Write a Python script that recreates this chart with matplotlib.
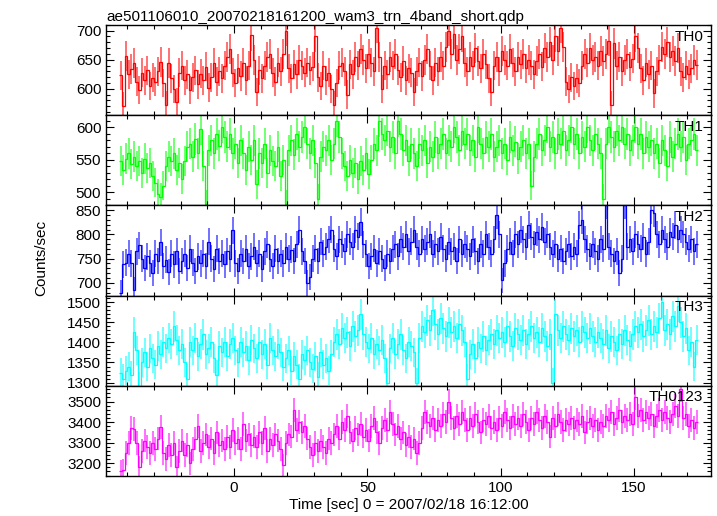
import numpy as np
from matplotlib import pyplot as plt
from matplotlib.ticker import MultipleLocator

plt.rcParams['font.family'] = ['Liberation Sans', 'DejaVu Sans']

title = 'ae501106010_20070218161200_wam3_trn_4band_short.qdp'

# 1 s bins, first bin centre in seconds from 2007/02/18 16:12:00
t_first = -42.5
bin_width = 1.0

th0 = [
    623, 570, 656, 625, 634, 644, 612, 598, 628, 615,
    632, 605, 619, 612, 630, 646, 610, 572, 644, 618,
    600, 577, 628, 640, 615, 625, 598, 620, 632, 608,
    626, 615, 638, 602, 620, 645, 612, 630, 618, 640,
    655, 668, 628, 610, 635, 622, 645, 615, 640, 692,
    650, 595, 632, 618, 640, 655, 660, 628, 612, 645,
    630, 660, 700, 635, 618, 642, 625, 650, 640, 628,
    645, 632, 638, 690, 620, 605, 640, 615, 628, 600,
    573, 610, 640, 645, 630, 590, 642, 625, 655, 640,
    668, 650, 635, 660, 645, 630, 705, 655, 600, 640,
    625, 655, 640, 660, 632, 620, 648, 615, 635, 628,
    594, 630, 645, 622, 650, 669, 640, 615, 645, 630,
    655, 640, 672, 700, 660, 695, 650, 668, 690, 645,
    630, 655, 640, 670, 648, 635, 660, 642, 618, 595,
    640, 655, 630, 665, 650, 640, 668, 645, 630, 655,
    642, 660, 635, 650, 640, 625, 648, 660, 638, 670,
    655, 680, 650, 690, 665, 705, 672, 612, 600, 620,
    605, 618, 610, 640, 660, 645, 670, 650, 655, 640,
    665, 648, 660, 682, 572, 678, 640, 655, 630, 650,
    660, 638, 652, 690, 670, 635, 615, 645, 625, 640,
    592, 630, 650, 672, 660, 680, 655, 665, 648, 670,
    630, 620, 640, 625, 635, 650, 641,
]

th1 = [
    548, 535, 552, 560, 544, 555, 540, 548, 530, 552,
    538, 545, 525, 515, 498, 492, 510, 540, 555, 548,
    560, 535, 545, 520, 548, 570, 575, 555, 582, 560,
    598, 540, 482, 565, 580, 560, 590, 572, 600, 585,
    570, 590, 560, 575, 545, 580, 560, 535, 570, 550,
    580, 512, 560, 545, 575, 530, 565, 548, 540, 570,
    525, 550, 482, 565, 580, 558, 590, 570, 585, 600,
    575, 560, 580, 545, 490, 555, 570, 565, 580, 550,
    575, 610, 585, 560, 540, 525, 550, 530, 545, 520,
    548, 535, 560, 528, 550, 575, 565, 610, 590, 580,
    595, 570, 585, 560, 610, 590, 565, 580, 548, 575,
    560, 540, 575, 565, 580, 545, 570, 555, 585, 560,
    575, 590, 560, 580, 570, 600, 585, 565, 595, 575,
    590, 565, 580, 555, 600, 575, 560, 585, 570, 590,
    555, 570, 580, 560, 575, 550, 585, 565, 578, 552,
    570, 580, 560, 575, 510, 555, 575, 590, 565, 580,
    600, 570, 585, 560, 590, 575, 595, 565, 580, 600,
    575, 590, 560, 585, 570, 600, 580, 565, 590, 575,
    560, 490, 575, 600, 585, 570, 595, 580, 600, 575,
    590, 565, 580, 600, 575, 590, 560, 585, 570, 580,
    560, 575, 545, 580, 565, 540, 585, 555, 575, 590,
    570, 585, 550, 575, 580, 590, 565,
]

th2 = [
    680, 738, 742, 760, 740, 685, 765, 778, 750, 730,
    755, 740, 720, 760, 745, 784, 735, 748, 722, 760,
    738, 765, 725, 745, 760, 730, 770, 742, 725, 755,
    740, 760, 735, 785, 750, 728, 770, 745, 760, 738,
    765, 750, 808, 740, 725, 760, 745, 770, 735, 755,
    775, 740, 760, 728, 765, 780, 750, 735, 770, 745,
    760, 740, 775, 750, 768, 745, 780, 810, 765, 745,
    700, 712, 750, 770, 745, 785, 760, 775, 790, 810,
    770, 755, 790, 780, 765, 800, 785, 775, 810, 795,
    826, 780, 760, 735, 755, 770, 740, 765, 750, 730,
    760, 745, 770, 780, 755, 790, 775, 800, 765, 785,
    810, 775, 760, 790, 770, 785, 800, 760, 780, 765,
    795, 770, 750, 785, 765, 775, 745, 790, 760, 780,
    770, 755, 790, 765, 745, 780, 760, 800, 775, 760,
    790, 840, 800, 705, 740, 770, 785, 760, 800, 780,
    810, 790, 775, 820, 795, 780, 805, 790, 815, 785,
    800, 775, 760, 780, 750, 770, 745, 765, 780, 755,
    775, 760, 820, 830, 790, 770, 755, 780, 765, 750,
    790, 770, 860, 775, 760, 745, 765, 720, 750, 860,
    775, 790, 765, 800, 780, 770, 795, 760, 785, 850,
    845, 800, 780, 810, 790, 775, 805, 795, 820, 790,
    810, 800, 785, 770, 790, 765, 780,
]

th3 = [
    1325, 1310, 1330, 1340, 1318, 1425, 1380, 1290, 1350, 1375,
    1340, 1385, 1360, 1345, 1390, 1370, 1400, 1385, 1410, 1395,
    1440, 1405, 1380, 1395, 1350, 1310, 1400, 1380, 1410, 1365,
    1395, 1420, 1370, 1385, 1400, 1360, 1320, 1390, 1375, 1400,
    1365, 1395, 1410, 1380, 1350, 1400, 1375, 1390, 1355, 1405,
    1385, 1360, 1400, 1370, 1395, 1345, 1410, 1380, 1365, 1395,
    1375, 1340, 1360, 1380, 1330, 1365, 1345, 1310, 1370, 1355,
    1380, 1350, 1335, 1365, 1315, 1375, 1345, 1360, 1330, 1370,
    1400, 1420, 1395, 1435, 1410, 1425, 1390, 1440, 1415, 1430,
    1470, 1420, 1400, 1385, 1410, 1370, 1395, 1380, 1405, 1360,
    1300, 1385, 1410, 1370, 1395, 1420, 1380, 1360, 1400, 1390,
    1375, 1300, 1410, 1440, 1425, 1455, 1430, 1480, 1445, 1420,
    1460, 1435, 1415, 1450, 1425, 1440, 1410, 1445, 1430, 1400,
    1310, 1370, 1395, 1360, 1400, 1385, 1415, 1380, 1405, 1420,
    1395, 1430, 1410, 1425, 1400, 1440, 1415, 1390, 1435, 1420,
    1405, 1430, 1395, 1420, 1440, 1410, 1425, 1400, 1435, 1415,
    1390, 1420, 1300, 1470, 1430, 1410, 1440, 1420, 1405, 1435,
    1415, 1430, 1400, 1440, 1425, 1410, 1435, 1415, 1400, 1425,
    1410, 1395, 1430, 1385, 1415, 1400, 1380, 1420, 1395, 1430,
    1405, 1390, 1420, 1440, 1425, 1445, 1415, 1430, 1455, 1420,
    1440, 1425, 1460, 1500, 1430, 1445, 1420, 1465, 1440, 1490,
    1450, 1415, 1435, 1380, 1400, 1340, 1405,
]

th0123 = [
    3162, 3165, 3250, 3300, 3370, 3365, 3300, 3180, 3260, 3310,
    3280, 3250, 3300, 3270, 3320, 3375, 3250, 3220, 3290, 3240,
    3300, 3180, 3260, 3310, 3240, 3290, 3200, 3270, 3320, 3380,
    3260, 3300, 3340, 3280, 3320, 3250, 3350, 3290, 3310, 3270,
    3330, 3280, 3360, 3300, 3320, 3270, 3390, 3310, 3340, 3290,
    3330, 3280, 3350, 3300, 3370, 3260, 3320, 3290, 3340, 3310,
    3270, 3190, 3300, 3340, 3330, 3460, 3360, 3400, 3350, 3380,
    3320, 3280, 3240, 3300, 3260, 3310, 3280, 3250, 3320, 3300,
    3340, 3380, 3320, 3400, 3360, 3430, 3350, 3310, 3370, 3340,
    3390, 3330, 3360, 3310, 3380, 3420, 3350, 3300, 3370, 3410,
    3360, 3450, 3390, 3340, 3380, 3320, 3350, 3290, 3330, 3280,
    3320, 3250, 3300, 3370, 3450, 3400, 3380, 3420, 3360, 3410,
    3380, 3440, 3400, 3500, 3420, 3370, 3430, 3390, 3450, 3410,
    3360, 3420, 3380, 3440, 3400, 3350, 3410, 3390, 3430, 3370,
    3400, 3360, 3420, 3380, 3450, 3410, 3370, 3430, 3390, 3420,
    3380, 3440, 3400, 3360, 3420, 3390, 3450, 3410, 3370, 3430,
    3400, 3330, 3420, 3380, 3440, 3400, 3360, 3410, 3390, 3420,
    3370, 3410, 3390, 3430, 3350, 3400, 3420, 3380, 3410, 3360,
    3400, 3380, 3430, 3410, 3450, 3390, 3420, 3460, 3400, 3430,
    3410, 3440, 3390, 3520, 3430, 3460, 3410, 3450, 3420, 3440,
    3380, 3430, 3460, 3410, 3450, 3420, 3400, 3440, 3480, 3430,
    3560, 3420, 3440, 3380, 3410, 3370, 3400,
]

bands = ['TH0', 'TH1', 'TH2', 'TH3', 'TH0123']
series = [th0, th1, th2, th3, th0123]
colours = ['#ff0000', '#00ff00', '#0000ff', '#00ffff', '#ff00ff']
y_limits = [(555, 710), (480, 619), (674, 860), (1292, 1517), (3138, 3577)]
y_major = [50, 50, 50, 50, 100]
y_minor = [10, 10, 10, 10, 20]

fig, axes = plt.subplots(5, 1, sharex=True, figsize=(7.17, 5.16), dpi=100)
fig.subplots_adjust(left=0.148, right=0.9916, top=0.952, bottom=0.0775, hspace=0)

for ax, name, vals, colour, ylim, major, minor in zip(axes, bands, series, colours,
                                                      y_limits, y_major, y_minor):
    rate = np.array(vals, dtype=float)
    # counts/sec in 1 s bins -> poisson error
    err = np.sqrt(rate / bin_width)
    centres = t_first + bin_width * np.arange(len(rate))
    edges = np.append(centres - bin_width / 2, centres[-1] + bin_width / 2)

    ax.vlines(centres, rate - err, rate + err, color=colour, alpha=0.6, linewidth=1.3)
    ax.stairs(rate, edges, baseline=None, color=colour, linewidth=0.9)

    ax.set_ylim(*ylim)
    ax.yaxis.set_major_locator(MultipleLocator(major))
    ax.yaxis.set_minor_locator(MultipleLocator(minor))
    ax.xaxis.set_major_locator(MultipleLocator(50))
    ax.xaxis.set_minor_locator(MultipleLocator(10))
    ax.tick_params(which='both', direction='in', top=True, right=True, labelsize=11, colors='k')
    ax.tick_params(which='major', length=6, width=0.8)
    ax.tick_params(which='minor', length=3, width=0.8)
    for spine in ax.spines.values():
        spine.set_linewidth(1.0)
    ax.text(0.987, 0.87, name, transform=ax.transAxes, ha='right', va='center', fontsize=11)

axes[-1].set_xlim(-48, 178.9)
axes[-1].set_xlabel('Time [sec] 0 = 2007/02/18 16:12:00', fontsize=11, labelpad=2)
axes[0].set_title(title, loc='left', fontsize=11, pad=3)
fig.text(0.057, 0.5, 'Counts/sec', rotation=90, ha='center', va='center', fontsize=11)

plt.savefig('out.png', dpi=100, facecolor='white')
plt.close()
